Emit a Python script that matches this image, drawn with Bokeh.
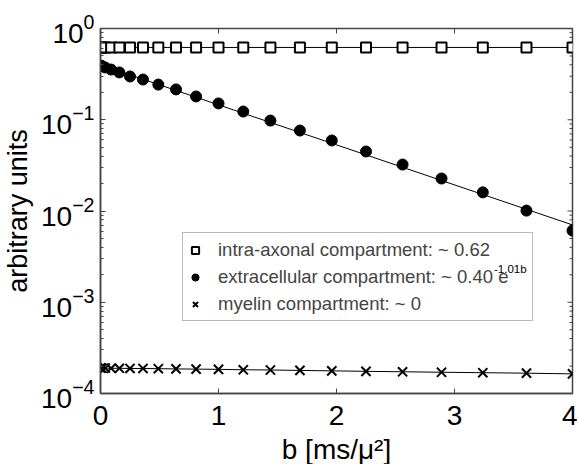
from bokeh.plotting import figure
from bokeh.models import Range1d, Legend, LegendItem, Label, FixedTicker
from bokeh.embed import file_html
from bokeh.resources import INLINE

# b values [ms/um^2]
b_values = [0.0, 0.01, 0.04, 0.09, 0.16, 0.25, 0.36, 0.49, 0.64, 0.81, 1.0,
            1.21, 1.44, 1.69, 1.96, 2.25, 2.56, 2.89, 3.24, 3.61, 4.0]
intra_axonal = [0.62, 0.62, 0.62, 0.62, 0.62, 0.62, 0.62, 0.62, 0.62, 0.62, 0.62,
                0.62, 0.62, 0.62, 0.62, 0.62, 0.62, 0.62, 0.62, 0.62, 0.62]
extracellular = [0.393, 0.389, 0.374, 0.355, 0.330, 0.298, 0.276, 0.243, 0.215, 0.180, 0.151,
                 0.123, 0.098, 0.0762, 0.0593, 0.0449, 0.0323, 0.0227, 0.0160, 0.0101, 0.0061]
myelin = [1.90e-4, 1.90e-4, 1.90e-4, 1.89e-4, 1.89e-4, 1.88e-4, 1.88e-4, 1.87e-4, 1.86e-4, 1.85e-4, 1.84e-4,
          1.82e-4, 1.81e-4, 1.79e-4, 1.77e-4, 1.75e-4, 1.73e-4, 1.71e-4, 1.69e-4, 1.67e-4, 1.64e-4]

# fitted curves (end points)
fit_b = [0.0, 4.0]
fit_intra = [0.62, 0.62]
fit_extra = [0.40, 0.00704]

x_ticks = [0, 1, 2, 3, 4]
y_decades = [1e-4, 1e-3, 1e-2, 1e-1, 1.0]
minor_mult = [2, 3, 4, 5, 6, 7, 8, 9]
legend_labels = ["intra-axonal compartment: ~ 0.62",
                 "extracellular compartment: ~ 0.40 e",
                 "myelin compartment: ~ 0"]
legend_sup = "-1.01b"
x_label = "b [ms/\u03bc\u00b2]"
y_label = "arbitrary units"

FONT = "Liberation Sans"
AX = "#444444"

p = figure(width=578, height=464, y_axis_type="log",
           x_range=Range1d(0, 4), y_range=Range1d(1e-4, 1),
           output_backend="svg", toolbar_location=None,
           min_border_left=10, min_border_right=5, min_border_top=28, min_border_bottom=10)
p.frame_width = 472
p.frame_height = 365
p.xgrid.grid_line_color = None
p.ygrid.grid_line_color = None
p.outline_line_color = AX
p.outline_line_width = 1.5
p.background_fill_color = "white"
p.border_fill_color = "white"

# inward ticks on the top and right edges (mirroring the bottom/left axes)
x0, x1 = p.x_range.start, p.x_range.end
y0, y1 = p.y_range.start, p.y_range.end
dx_major = (x1 - x0) * 5 / 472.0
dx_minor = (x1 - x0) * 3 / 472.0
fy_major = (y1 / y0) ** (5 / 365.0)
p.segment(x0=x_ticks, y0=[y1] * len(x_ticks), x1=x_ticks, y1=[y1 / fy_major] * len(x_ticks),
          line_color=AX, line_width=1)
p.segment(x0=[x1] * len(y_decades), y0=y_decades, x1=[x1 - dx_major] * len(y_decades), y1=y_decades,
          line_color=AX, line_width=1)
minor_vals = [d * m for d in y_decades[:-1] for m in minor_mult]
p.segment(x0=[x1] * len(minor_vals), y0=minor_vals, x1=[x1 - dx_minor] * len(minor_vals), y1=minor_vals,
          line_color=AX, line_width=1)

# lines
p.line(fit_b, fit_intra, line_color="black", line_width=1)
p.line(fit_b, fit_extra, line_color="black", line_width=1)
p.line(b_values, myelin, line_color="black", line_width=1)

r_sq = p.scatter(b_values, intra_axonal, marker="square", size=10, fill_color="white",
                 line_color="black", line_width=2)
r_ci = p.scatter(b_values, extracellular, marker="circle", size=11, fill_color="black",
                 line_color="black")
r_x = p.scatter(b_values, myelin, marker="x", size=13, line_color="black", line_width=2)

# axes styling
for ax in [p.xaxis[0], p.yaxis[0]]:
    ax.major_label_text_font = FONT
    ax.major_label_text_font_size = "28px"
    ax.major_label_text_color = "black"
    ax.axis_label_text_font = FONT
    ax.axis_label_text_font_size = "28px"
    ax.axis_label_text_font_style = "normal"
    ax.axis_label_text_color = "black"
    ax.axis_line_color = AX
    ax.axis_line_width = 1.5
    ax.major_tick_in = 5
    ax.major_tick_out = 0
    ax.minor_tick_in = 3
    ax.minor_tick_out = 0
    ax.major_tick_line_color = AX
    ax.minor_tick_line_color = AX

p.xaxis[0].ticker = FixedTicker(ticks=x_ticks)
p.xaxis[0].minor_tick_line_color = None
p.xaxis[0].axis_label = x_label
p.xaxis[0].major_label_standoff = 12
p.xaxis[0].axis_label_standoff = 6
p.yaxis[0].axis_label = y_label
p.yaxis[0].axis_label_text_font_size = "27px"
p.yaxis[0].major_label_standoff = 6
p.yaxis[0].axis_label_standoff = 5

legend = Legend(items=[LegendItem(label=legend_labels[0], renderers=[r_sq]),
                       LegendItem(label=legend_labels[1], renderers=[r_ci]),
                       LegendItem(label=legend_labels[2], renderers=[r_x])],
                location=(82, 72), orientation="vertical",
                label_text_font=FONT, label_text_font_size="18.5px",
                padding=3, glyph_width=18, glyph_height=18, label_standoff=14,
                label_height=27, spacing=0, label_width=311, margin=0,
                border_line_color="#777777", border_line_width=1,
                background_fill_color="white", background_fill_alpha=0)
p.add_layout(legend, "center")

# superscript of the exponential in the legend (placed in data space, right after "e")
sup = Label(x=3.335, y=2.0e-3, text=legend_sup, text_baseline="bottom",
            text_font=FONT, text_font_size="11.5px", text_color="black")
p.add_layout(sup)

open("out.html", "w").write(file_html(p, INLINE))
